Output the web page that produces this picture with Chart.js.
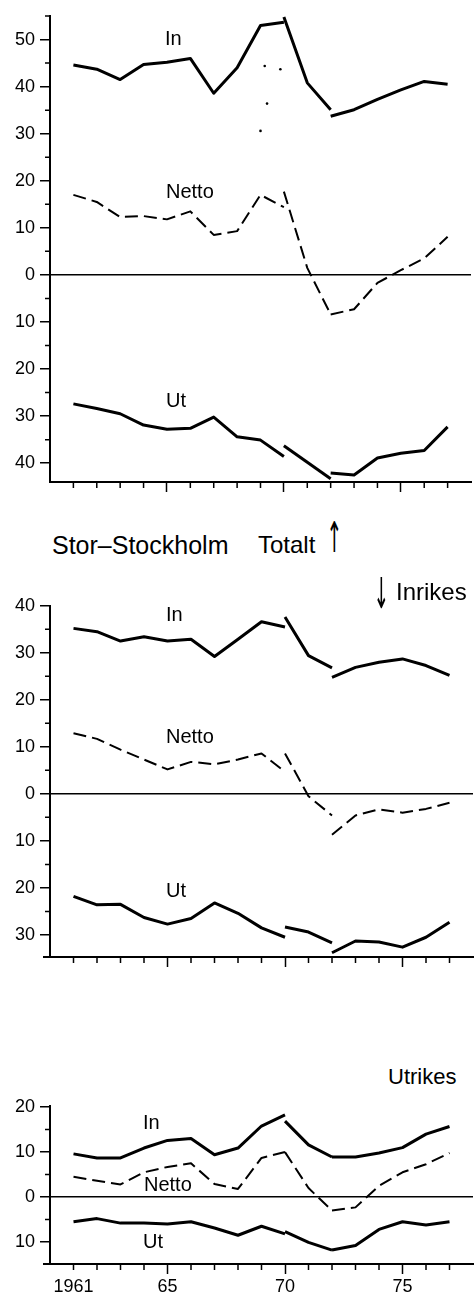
<!DOCTYPE html>
<html><head><meta charset="utf-8">
<script src="https://cdn.jsdelivr.net/npm/chart.js@4.4.1/dist/chart.umd.min.js"></script>
<style>
html,body{margin:0;padding:0;background:#fff;}
body{width:475px;height:1295px;position:relative;overflow:hidden;font-family:"Liberation Sans",Arial,sans-serif;color:#000;}
canvas{position:absolute;left:0;}
.t{position:absolute;white-space:nowrap;font-size:24px;line-height:24px;z-index:2;}
.l{position:absolute;white-space:nowrap;font-size:20px;line-height:20px;z-index:2;}
.arr{position:absolute;font-family:"DejaVu Sans",sans-serif;font-size:34px;line-height:34px;z-index:2;transform:scale(0.55,1.25);transform-origin:center center;}
</style></head><body>
<canvas id="c1" width="475" height="500" style="top:0px"></canvas>
<canvas id="c2" width="475" height="385" style="top:590px"></canvas>
<canvas id="c3" width="475" height="205" style="top:1090px"></canvas>

<div class="l" style="left:165px;top:28px">In</div>
<div class="l" style="left:166px;top:181px">Netto</div>
<div class="l" style="left:166px;top:390px">Ut</div>

<div class="t" style="left:52px;top:533px;font-size:25px;line-height:24px">Stor–Stockholm</div>
<div class="t" style="left:258px;top:533px">Totalt</div>
<div class="arr" style="left:320px;top:520px">↑</div>
<div class="arr" style="left:367px;top:576px">↓</div>
<div class="t" style="left:396px;top:580px">Inrikes</div>

<div class="l" style="left:166px;top:604px">In</div>
<div class="l" style="left:166px;top:726px">Netto</div>
<div class="l" style="left:166px;top:880px">Ut</div>

<div class="t" style="left:388px;top:1066px;font-size:22px;line-height:22px">Utrikes</div>
<div class="l" style="left:143px;top:1112px">In</div>
<div class="l" style="left:144px;top:1174px">Netto</div>
<div class="l" style="left:143px;top:1231px">Ut</div>

<script>
// ---- data ----
const years = [1961,1962,1963,1964,1965,1966,1967,1968,1969,1970,1971,1972,1973,1974,1975,1976,1977];
const yrsA = years.slice(0, 10);   // 1961-1970
const yrsB = years.slice(9, 12);   // 1970-1972
const yrsC = years.slice(11);      // 1972-1977
const majorYears = [1965, 1970, 1975];
const xLabels = {1961: '1961', 1965: '65', 1970: '70', 1975: '75'};

// Totalt
const totInA  = [44.6, 43.7, 41.5, 44.7, 45.2, 46.0, 38.6, 44.0, 53.0, 53.7];
const totInB  = [54.8, 40.8, 35.1];
const totInC  = [33.7, 35.1, 37.3, 39.3, 41.1, 40.5];
const totNetA = [17.0, 15.5, 12.3, 12.5, 11.8, 13.5, 8.5, 9.3, 17.0, 14.4];
const totNetB = [17.7, 1.5, -8.4];
const totNetC = [-8.4, -7.3, -1.7, 1.0, 3.5, 8.1];
const totUtA  = [-27.4, -28.4, -29.5, -31.9, -32.8, -32.6, -30.2, -34.4, -35.1, -38.6];
const totUtB  = [-36.3, -39.8, -43.3];
const totUtC  = [-42.1, -42.5, -38.9, -37.9, -37.3, -32.3];
const specX   = [1969.0, 1969.18, 1969.28, 1969.85];
const specY   = [30.6, 44.4, 36.4, 43.7];

// Inrikes
const inrInA  = [35.2, 34.5, 32.5, 33.4, 32.5, 32.9, 29.2, 32.9, 36.6, 35.5];
const inrInB  = [37.6, 29.4, 26.8];
const inrInC  = [24.8, 26.9, 28.0, 28.7, 27.3, 25.2];
const inrNetA = [12.9, 11.7, 9.4, 7.3, 5.2, 6.8, 6.3, 7.3, 8.6, 4.7];
const inrNetB = [8.6, -0.5, -4.6];
const inrNetC = [-8.7, -4.6, -3.3, -4.0, -3.2, -1.9];
const inrUtA  = [-21.8, -23.6, -23.5, -26.3, -27.7, -26.5, -23.2, -25.4, -28.5, -30.5];
const inrUtB  = [-28.3, -29.4, -31.7];
const inrUtC  = [-33.8, -31.3, -31.5, -32.6, -30.5, -27.3];

// Utrikes
const utrInA  = [9.6, 8.7, 8.7, 10.9, 12.6, 13.0, 9.4, 10.9, 15.8, 18.3];
const utrInB  = [16.9, 11.6, 8.9];
const utrInC  = [8.9, 8.9, 9.8, 11.0, 14.0, 15.7];
const utrNetA = [4.5, 3.6, 2.8, 5.5, 6.7, 7.5, 2.9, 1.8, 8.7, 10.0];
const utrNetB = [10.0, 2.0, -3.0];
const utrNetC = [-3.0, -2.3, 2.5, 5.5, 7.3, 9.8];
const utrUtA  = [-5.5, -4.8, -5.8, -5.8, -6.0, -5.5, -6.9, -8.5, -6.5, -8.2];
const utrUtB  = [-7.7, -10.1, -11.8];
const utrUtC  = [-11.8, -10.8, -7.2, -5.5, -6.2, -5.5];

// ---- drawing ----
const FONT = '"Liberation Sans", Arial, sans-serif';

function seg(xs, ys, dashed) {
  return {
    data: xs.map((x, i) => ({x: x, y: ys[i]})),
    borderColor: '#000',
    borderWidth: dashed ? 2 : 3,
    borderDash: dashed ? [13, 6] : [],
    borderJoinStyle: 'round',
    pointRadius: 0,
    fill: false,
    tension: 0
  };
}

const minorTicks = {
  id: 'minorTicks',
  afterDraw(chart, args, opts) {
    const ctx = chart.ctx, x = chart.scales.x, y = chart.scales.y, a = chart.chartArea;
    ctx.save();
    ctx.strokeStyle = '#000';
    ctx.lineWidth = 1.5;
    ctx.beginPath();
    for (let v = Math.ceil(y.min / 5) * 5; v <= y.max; v += 5) {
      if (v % 10 === 0) continue;
      const py = y.getPixelForValue(v);
      ctx.moveTo(a.left - 5, py); ctx.lineTo(a.left + 1, py);
    }
    years.forEach(yr => {
      if (majorYears.includes(yr)) return;
      const px = x.getPixelForValue(yr);
      ctx.moveTo(px, a.bottom); ctx.lineTo(px, a.bottom + 6);
    });
    ctx.stroke();
    if (opts && opts.extend) {
      ctx.lineWidth = 2;
      ctx.beginPath();
      ctx.moveTo(a.left - opts.extend, a.bottom);
      ctx.lineTo(a.left, a.bottom);
      ctx.stroke();
    }
    ctx.restore();
  }
};

function makeChart(id, ymin, ymax, padTop, xh, showX, extend, datasets) {
  new Chart(document.getElementById(id), {
    type: 'line',
    data: {datasets: datasets},
    options: {
      responsive: false,
      animation: false,
      layout: {padding: {top: padTop, left: 0, right: 0, bottom: 0}},
      plugins: {legend: {display: false}, tooltip: {enabled: false}, minorTicks: {extend: extend}},
      scales: {
        x: {
          type: 'linear', min: 1960, max: 1978,
          afterFit: s => { s.height = xh; },
          border: {display: true, color: '#000', width: 2},
          grid: {
            drawOnChartArea: false, drawTicks: true, tickLength: 10,
            color: 'rgba(0,0,0,0)', tickWidth: 1.5,
            tickColor: c => majorYears.includes(Math.round(c.tick.value)) ? '#000' : 'rgba(0,0,0,0)'
          },
          ticks: {
            stepSize: 1, autoSkip: false, maxRotation: 0, includeBounds: false, padding: 2,
            color: '#000', font: {family: FONT, size: 18},
            callback: v => showX ? (xLabels[Math.round(v)] || '') : ''
          }
        },
        y: {
          type: 'linear', min: ymin, max: ymax,
          afterFit: s => { s.width = 50; },
          border: {display: true, color: '#000', width: 2},
          grid: {
            drawOnChartArea: true, drawTicks: true, tickLength: 10,
            color: c => (c.tick && c.tick.value === 0) ? '#000' : 'rgba(0,0,0,0)',
            lineWidth: 1.5, tickWidth: 1.5,
            tickColor: c => (c.tick && c.tick.value % 10 === 0) ? '#000' : 'rgba(0,0,0,0)'
          },
          ticks: {
            stepSize: 5, autoSkip: false, includeBounds: false, padding: 5,
            color: '#000', font: {family: FONT, size: 18},
            callback: v => (v % 10 === 0) ? String(Math.abs(v)) : ''
          }
        }
      }
    },
    plugins: [minorTicks]
  });
}

const spec = {
  data: specX.map((x, i) => ({x: x, y: specY[i]})),
  showLine: false, pointRadius: 1.3, pointBackgroundColor: '#000', pointBorderWidth: 0
};

makeChart('c1', -44, 55.05, 12, 18, false, 0, [
  seg(yrsA, totInA), seg(yrsB, totInB), seg(yrsC, totInC),
  seg(yrsA, totNetA, true), seg(yrsB, totNetB, true), seg(yrsC, totNetC, true),
  seg(yrsA, totUtA), seg(yrsB, totUtB), seg(yrsC, totUtC),
  spec
]);
makeChart('c2', -34.7, 40, 10, 18, false, 7, [
  seg(yrsA, inrInA), seg(yrsB, inrInB), seg(yrsC, inrInC),
  seg(yrsA, inrNetA, true), seg(yrsB, inrNetB, true), seg(yrsC, inrNetC, true),
  seg(yrsA, inrUtA), seg(yrsB, inrUtB), seg(yrsC, inrUtC)
]);
makeChart('c3', -14.9, 20.3, 10, 31, true, 7, [
  seg(yrsA, utrInA), seg(yrsB, utrInB), seg(yrsC, utrInC),
  seg(yrsA, utrNetA, true), seg(yrsB, utrNetB, true), seg(yrsC, utrNetC, true),
  seg(yrsA, utrUtA), seg(yrsB, utrUtB), seg(yrsC, utrUtC)
]);
</script>
</body></html>
